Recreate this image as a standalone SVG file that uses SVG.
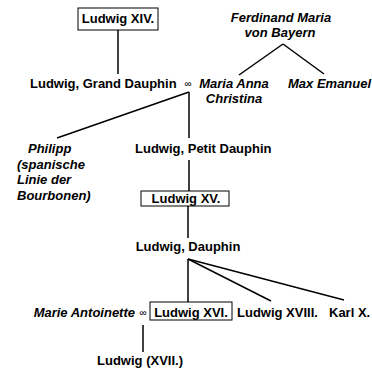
<svg xmlns="http://www.w3.org/2000/svg" width="372" height="369" viewBox="0 0 372 369">
<style>
text{font-family:"Liberation Sans",Arial,sans-serif;font-size:13px;font-weight:bold;fill:#000}
.i{font-style:italic}
.m{text-anchor:middle}
.e{text-anchor:end}
.inf{font-size:10px;font-weight:normal}
.box{fill:#fff;stroke:#000;stroke-width:1}
.ln{stroke:#000;stroke-width:1.5;fill:none}
</style>
<rect width="372" height="369" fill="#fff"/>
<g id="connectors">
<line class="ln" x1="118" y1="30" x2="118" y2="74"/>
<line class="ln" x1="283" y1="44" x2="239" y2="75"/>
<line class="ln" x1="283" y1="44" x2="324" y2="74"/>
<line class="ln" x1="189" y1="92" x2="189" y2="138"/>
<line class="ln" x1="189" y1="92" x2="57" y2="138"/>
<line class="ln" x1="189" y1="160" x2="189" y2="191"/>
<line class="ln" x1="188" y1="206" x2="188" y2="238"/>
<line class="ln" x1="188" y1="259" x2="188" y2="302"/>
<line class="ln" x1="188" y1="259" x2="271" y2="301"/>
<line class="ln" x1="188" y1="259" x2="344" y2="300"/>
<line class="ln" x1="143" y1="325" x2="143" y2="352"/>
</g>
<g id="ludwig14"><rect class="box" x="78" y="8" width="80" height="22"/><text class="m" x="118" y="23">Ludwig XIV.</text></g>
<g id="ferdinand"><text class="i m" x="281" y="22">Ferdinand Maria</text><text class="i m" x="280" y="37">von Bayern</text></g>
<g id="granddauphin"><text x="30" y="88">Ludwig, Grand Dauphin</text><text class="inf m" x="188" y="87">∞</text></g>
<g id="mariaanna"><text class="i m" x="234" y="88">Maria Anna</text><text class="i m" x="234" y="103">Christina</text></g>
<g id="maxemanuel"><text class="i" x="288" y="88">Max Emanuel</text></g>
<g id="philipp"><text class="i" x="28" y="153">Philipp</text><text class="i" x="17" y="168.5">(spanische</text><text class="i" x="17" y="184">Linie der</text><text class="i" x="17" y="199.5">Bourbonen)</text></g>
<g id="petitdauphin"><text x="135" y="153">Ludwig, Petit Dauphin</text></g>
<g id="ludwig15"><rect class="box" x="141" y="191" width="88" height="15"/><text class="m" x="186" y="203">Ludwig XV.</text></g>
<g id="dauphin"><text class="m" x="188" y="251">Ludwig, Dauphin</text></g>
<g id="marieantoinette"><text class="i e" x="135" y="317">Marie Antoinette</text><text class="inf m" x="143" y="316">∞</text></g>
<g id="ludwig16"><rect class="box" x="150" y="302" width="82" height="18"/><text class="m" x="191" y="317">Ludwig XVI.</text></g>
<g id="ludwig18"><text x="237" y="317">Ludwig XVIII.</text></g>
<g id="karl10"><text x="329" y="317">Karl X.</text></g>
<g id="ludwig17"><text class="m" x="140" y="365">Ludwig (XVII.)</text></g>
</svg>
